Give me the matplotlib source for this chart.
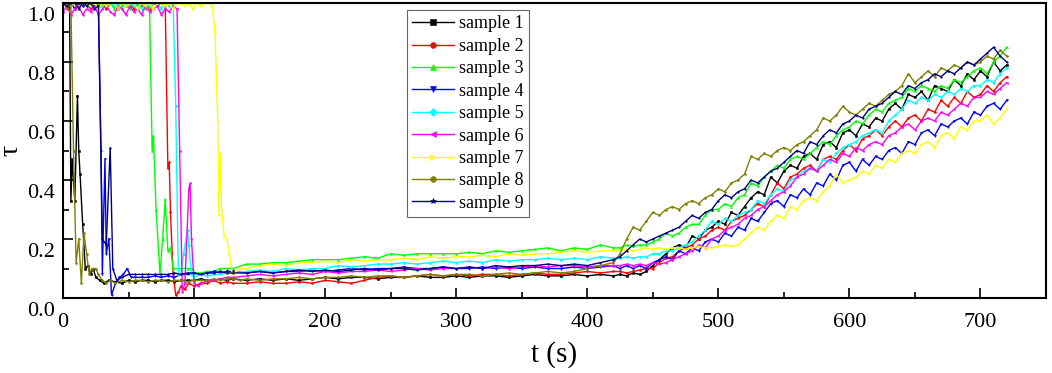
import matplotlib
matplotlib.use("Agg")
import matplotlib.pyplot as plt
import matplotlib.transforms as mtransforms
from matplotlib.ticker import MultipleLocator, FormatStrFormatter

plt.rcParams["font.family"] = ["Liberation Serif", "DejaVu Serif"]

# shared sampling grids after the initial transient
T_MID = list(range(140, 421, 10))
T_RAMP = list(range(425, 721, 5))

LABELS = [f"sample {i}" for i in range(1, 10)]
COLORS = ["#000000", "#FF0000", "#00FF00", "#0000FF", "#00FFFF",
          "#FF00FF", "#FFFF00", "#808000", "#000080"]
MARKERS = ["s", "o", "^", "v", "D", "<", ">", "o", "*"]

# sample 1
S1_T = [0, 3, 5, 6, 7, 8, 9, 11, 12, 13, 15, 17, 19, 21, 23, 25, 28, 31, 35, 40,
        45, 50, 55, 60, 65, 70, 75, 80, 85, 90, 95, 100, 105, 110, 115, 120, 125, 130]
S1_EARLY = [1.0, 0.99, 1.0, 0.33, 0.47, 0.40, 0.33, 0.685, 0.50, 0.42,
            0.25, 0.10, 0.11, 0.08, 0.10, 0.07, 0.06, 0.05, 0.06, 0.055,
            0.05, 0.06, 0.055, 0.06, 0.06, 0.055, 0.06, 0.06, 0.055, 0.06,
            0.06, 0.06, 0.065, 0.06, 0.06, 0.065, 0.06, 0.065]
S1_MID = [0.06, 0.065, 0.06, 0.065, 0.06, 0.065, 0.07, 0.065, 0.07, 0.07,
          0.065, 0.07, 0.07, 0.075, 0.07, 0.07, 0.075, 0.07, 0.075, 0.075,
          0.07, 0.075, 0.08, 0.075, 0.075, 0.08, 0.075, 0.08, 0.075]
S1_RAMP = [0.08, 0.075, 0.085, 0.08, 0.09, 0.11, 0.13, 0.15, 0.17, 0.18,
           0.17, 0.21, 0.2, 0.23, 0.24, 0.26, 0.25, 0.29, 0.28, 0.31,
           0.34, 0.36, 0.35, 0.41, 0.39, 0.43, 0.45, 0.44, 0.48, 0.49,
           0.47, 0.52, 0.53, 0.51, 0.56, 0.57, 0.55, 0.59, 0.58, 0.61,
           0.6, 0.64, 0.66, 0.64, 0.69, 0.68, 0.7, 0.67, 0.72, 0.71,
           0.7, 0.74, 0.72, 0.76, 0.74, 0.77, 0.75, 0.8, 0.77, 0.79]

# sample 2
S2_T = list(range(0, 76, 3)) + [78, 80, 81, 82, 84, 86, 88, 90, 93, 96,
                                 100, 105, 110, 115, 120, 125, 130]
S2_EARLY = [1.0, 0.99, 1.0, 0.98, 1.0, 0.99, 1.0, 0.98, 1.0, 0.99,
            1.0, 0.98, 1.0, 0.99, 0.98, 1.0, 0.99, 1.0, 0.98, 1.0,
            0.99, 1.0, 0.98, 1.0, 0.99, 1.0,
            0.99, 0.44, 0.46, 0.29, 0.08, 0.01, 0.02, 0.04, 0.03, 0.05,
            0.04, 0.05, 0.05, 0.06, 0.05, 0.055, 0.05]
S2_MID = [0.05, 0.055, 0.05, 0.05, 0.055, 0.05, 0.06, 0.055, 0.05, 0.06,
          0.07, 0.075, 0.07, 0.075, 0.08, 0.075, 0.08, 0.075, 0.08, 0.08,
          0.075, 0.08, 0.085, 0.08, 0.08, 0.085, 0.09, 0.085, 0.09]
S2_RAMP = [0.09, 0.085, 0.09, 0.095, 0.1, 0.1, 0.12, 0.135, 0.14, 0.16,
           0.17, 0.18, 0.2, 0.21, 0.23, 0.24, 0.23, 0.26, 0.27, 0.28,
           0.3, 0.32, 0.31, 0.35, 0.39, 0.37, 0.41, 0.42, 0.44, 0.45,
           0.43, 0.47, 0.48, 0.47, 0.5, 0.52, 0.5, 0.54, 0.55, 0.57,
           0.55, 0.58, 0.6, 0.58, 0.61, 0.62, 0.6, 0.64, 0.63, 0.67,
           0.65, 0.68, 0.66, 0.7, 0.68, 0.69, 0.72, 0.7, 0.73, 0.75]

# sample 3
S3_T = list(range(0, 67, 3)) + [68, 69, 71, 74, 76, 78, 80, 82, 84, 90, 95, 99,
                                 100, 105, 110, 115, 120, 125, 130]
S3_EARLY = [1.0, 0.99, 1.0, 1.0, 0.98, 1.0, 0.99, 1.0, 0.98, 1.0,
            0.99, 1.0, 1.0, 0.98, 1.0, 0.99, 1.0, 0.98, 1.0, 0.99,
            1.0, 0.98, 0.99,
            0.5, 0.55, 0.3, 0.08, 0.2, 0.335, 0.16, 0.17, 0.1, 0.1, 0.1, 0.1,
            0.085, 0.085, 0.09, 0.09, 0.1, 0.1, 0.1]
S3_MID = [0.115, 0.115, 0.12, 0.12, 0.125, 0.13, 0.13, 0.13, 0.135, 0.14,
          0.135, 0.15, 0.145, 0.15, 0.15, 0.15, 0.15, 0.155, 0.15, 0.16,
          0.155, 0.16, 0.165, 0.17, 0.16, 0.17, 0.165, 0.18, 0.17]
S3_RAMP = [0.17, 0.18, 0.175, 0.18, 0.18, 0.19, 0.2, 0.22, 0.21, 0.22,
           0.24, 0.25, 0.25, 0.28, 0.3, 0.3, 0.32, 0.31, 0.34, 0.35,
           0.39, 0.38, 0.41, 0.43, 0.45, 0.44, 0.47, 0.48, 0.47, 0.49,
           0.51, 0.53, 0.52, 0.55, 0.57, 0.58, 0.6, 0.59, 0.62, 0.64,
           0.63, 0.66, 0.67, 0.68, 0.71, 0.7, 0.72, 0.71, 0.7, 0.72,
           0.71, 0.74, 0.73, 0.75, 0.77, 0.78, 0.76, 0.8, 0.82, 0.85]

# sample 4
S4_T = list(range(0, 25, 3)) + [27, 29, 30, 32, 33, 35, 37, 40, 43, 46,
                                 49, 52, 55, 60, 65, 70, 75, 80, 85, 90,
                                 95, 100, 105, 110, 115, 120, 125, 130]
S4_EARLY = [1.0, 0.99, 1.0, 0.98, 1.0, 0.99, 1.0, 1.0, 0.99,
            0.99, 0.5, 0.08, 0.47, 0.15, 0.2, 0.01, 0.05, 0.07, 0.08,
            0.1, 0.07, 0.07, 0.07, 0.07, 0.075, 0.07, 0.075, 0.07, 0.08,
            0.08, 0.085, 0.08, 0.085, 0.09, 0.085, 0.09, 0.09]
S4_MID = [0.085, 0.09, 0.085, 0.09, 0.09, 0.095, 0.09, 0.095, 0.1, 0.095,
          0.1, 0.1, 0.105, 0.1, 0.1, 0.105, 0.1, 0.1, 0.105, 0.1,
          0.105, 0.1, 0.105, 0.1, 0.1, 0.105, 0.1, 0.105, 0.11]
S4_RAMP = [0.1, 0.11, 0.1, 0.11, 0.1, 0.12, 0.13, 0.14, 0.13, 0.16,
           0.15, 0.17, 0.16, 0.19, 0.2, 0.19, 0.22, 0.21, 0.24, 0.23,
           0.27, 0.26, 0.29, 0.32, 0.33, 0.31, 0.35, 0.34, 0.37, 0.35,
           0.39, 0.38, 0.42, 0.4, 0.45, 0.46, 0.43, 0.47, 0.45, 0.48,
           0.47, 0.5, 0.51, 0.49, 0.53, 0.52, 0.56, 0.57, 0.55, 0.59,
           0.58, 0.6, 0.61, 0.59, 0.63, 0.62, 0.65, 0.66, 0.64, 0.67]

# sample 5
S5_T = list(range(0, 85, 3)) + [86, 88, 90, 92, 95, 96, 98, 100, 105, 110,
                                 115, 120, 125, 130]
S5_EARLY = [1.0, 0.99, 1.0, 1.0, 0.98, 1.0, 0.99, 1.0, 1.0, 0.98,
            0.99, 1.0, 1.0, 0.99, 1.0, 0.98, 1.0, 1.0, 0.99, 1.0,
            0.98, 1.0, 0.99, 1.0, 1.0, 0.98, 1.0, 0.99, 1.0,
            0.65, 0.08, 0.08, 0.15, 0.23, 0.18, 0.08, 0.07, 0.08, 0.075,
            0.08, 0.08, 0.085, 0.085]
S5_MID = [0.09, 0.095, 0.09, 0.1, 0.095, 0.1, 0.1, 0.11, 0.105, 0.11,
          0.115, 0.115, 0.12, 0.115, 0.12, 0.125, 0.12, 0.125, 0.12, 0.13,
          0.125, 0.13, 0.13, 0.135, 0.13, 0.135, 0.13, 0.14, 0.135]
S5_RAMP = [0.135, 0.14, 0.135, 0.14, 0.14, 0.15, 0.15, 0.16, 0.16, 0.17,
           0.18, 0.19, 0.21, 0.23, 0.26, 0.25, 0.27, 0.26, 0.28, 0.29,
           0.3, 0.33, 0.32, 0.35, 0.37, 0.36, 0.4, 0.41, 0.43, 0.44,
           0.43, 0.47, 0.46, 0.49, 0.51, 0.52, 0.53, 0.55, 0.56, 0.57,
           0.56, 0.6, 0.62, 0.64, 0.67, 0.66, 0.68, 0.67, 0.69, 0.68,
           0.7, 0.69, 0.71, 0.7, 0.72, 0.72, 0.74, 0.73, 0.76, 0.78]

# sample 6
S6_T = list(range(0, 88, 3)) + [89, 91, 93, 96, 97, 98, 100, 103, 106, 110,
                                 115, 120, 125, 130]
S6_EARLY = [0.97, 0.99, 0.96, 0.98, 0.99, 0.96, 0.98, 0.97, 0.99, 0.96,
            0.98, 0.99, 0.97, 0.96, 0.99, 0.98, 0.96, 0.99, 0.97, 0.98,
            0.96, 0.99, 0.97, 0.98, 0.99, 0.96, 0.98, 0.97, 0.99, 0.98,
            0.5, 0.02, 0.05, 0.37, 0.39, 0.2, 0.05, 0.04, 0.05, 0.06,
            0.06, 0.065, 0.07, 0.07]
S6_MID = [0.075, 0.08, 0.075, 0.08, 0.085, 0.08, 0.09, 0.085, 0.09, 0.09,
          0.095, 0.09, 0.095, 0.1, 0.095, 0.1, 0.1, 0.105, 0.1, 0.105,
          0.1, 0.105, 0.11, 0.105, 0.11, 0.11, 0.105, 0.11, 0.11]
S6_RAMP = [0.11, 0.115, 0.11, 0.115, 0.11, 0.12, 0.115, 0.12, 0.13, 0.14,
           0.15, 0.16, 0.18, 0.17, 0.2, 0.21, 0.23, 0.24, 0.25, 0.27,
           0.28, 0.3, 0.31, 0.33, 0.35, 0.36, 0.38, 0.41, 0.42, 0.44,
           0.43, 0.45, 0.47, 0.46, 0.49, 0.48, 0.51, 0.5, 0.52, 0.53,
           0.52, 0.55, 0.56, 0.58, 0.59, 0.57, 0.6, 0.61, 0.6, 0.63,
           0.62, 0.64, 0.66, 0.65, 0.68, 0.68, 0.7, 0.69, 0.71, 0.73]

# sample 7
S7_T = list(range(0, 115, 3)) + [116, 118, 119, 120, 121, 123, 125, 127, 129, 132, 135]
S7_EARLY = [1.0, 1.0, 0.99, 1.0, 0.98, 1.0, 1.0, 0.99, 1.0, 0.98,
            1.0, 0.99, 1.0, 1.0, 0.98, 1.0, 0.99, 1.0, 1.0, 0.98,
            1.0, 0.99, 1.0, 0.98, 1.0, 1.0, 0.99, 1.0, 0.98, 1.0,
            1.0, 0.99, 1.0, 0.98, 1.0, 0.99, 1.0, 1.0, 0.99,
            0.9, 0.6, 0.28, 0.49, 0.3, 0.21, 0.2, 0.15, 0.08, 0.09, 0.1]
S7_MID = [0.1, 0.11, 0.115, 0.11, 0.12, 0.12, 0.125, 0.12, 0.13, 0.125,
          0.13, 0.13, 0.135, 0.13, 0.14, 0.135, 0.14, 0.14, 0.145, 0.14,
          0.15, 0.145, 0.15, 0.15, 0.155, 0.16, 0.155, 0.16, 0.16]
S7_RAMP = [0.16, 0.165, 0.16, 0.165, 0.17, 0.165, 0.17, 0.165, 0.17, 0.17,
           0.165, 0.17, 0.175, 0.17, 0.17, 0.175, 0.18, 0.175, 0.18, 0.2,
           0.22, 0.24, 0.23, 0.26, 0.28, 0.27, 0.31, 0.3, 0.33, 0.34,
           0.33, 0.36, 0.38, 0.42, 0.39, 0.4, 0.41, 0.43, 0.42, 0.45,
           0.44, 0.47, 0.46, 0.49, 0.5, 0.49, 0.52, 0.53, 0.51, 0.55,
           0.56, 0.54, 0.58, 0.57, 0.6, 0.6, 0.62, 0.59, 0.61, 0.64]

# sample 8
S8_T = [0, 3, 6, 8, 10, 12, 14, 16, 18, 20, 22, 25, 27, 30, 33, 36, 40, 45, 50, 55,
        60, 65, 70, 75, 80, 85, 90, 95, 100, 105, 110, 115, 120, 125, 130, 135]
S8_EARLY = [1.0, 0.98, 1.0, 0.5, 0.12, 0.2, 0.05, 0.22, 0.15, 0.08,
            0.1, 0.1, 0.08, 0.06, 0.05, 0.06, 0.05, 0.06, 0.055, 0.06,
            0.06, 0.055, 0.06, 0.06, 0.055, 0.06, 0.06, 0.055, 0.06, 0.06,
            0.06, 0.065, 0.06, 0.065, 0.065, 0.06]
S8_MID = [0.065, 0.06, 0.065, 0.065, 0.07, 0.065, 0.07, 0.07, 0.075, 0.07,
          0.075, 0.075, 0.07, 0.075, 0.08, 0.075, 0.08, 0.08, 0.075, 0.08,
          0.085, 0.08, 0.085, 0.09, 0.085, 0.09, 0.1, 0.11, 0.12]
S8_RAMP = [0.15, 0.2, 0.24, 0.23, 0.26, 0.29, 0.28, 0.3, 0.31, 0.3,
           0.32, 0.33, 0.32, 0.34, 0.35, 0.37, 0.36, 0.39, 0.4, 0.42,
           0.48, 0.47, 0.49, 0.48, 0.5, 0.51, 0.5, 0.52, 0.53, 0.55,
           0.57, 0.61, 0.6, 0.62, 0.65, 0.63, 0.62, 0.64, 0.66, 0.65,
           0.67, 0.69, 0.7, 0.72, 0.76, 0.73, 0.75, 0.77, 0.75, 0.78,
           0.77, 0.79, 0.78, 0.8, 0.79, 0.8, 0.82, 0.81, 0.84, 0.82]

# sample 9
S9_T = list(range(0, 28, 3)) + [30, 33, 36, 38, 41, 45, 50, 55, 60, 65,
                                 70, 75, 80, 85, 90, 95, 100, 105, 110, 115,
                                 120, 125, 130]
S9_EARLY = [1.0, 0.99, 1.0, 1.0, 0.98, 1.0, 0.99, 1.0, 0.98, 0.99,
            0.2, 0.18, 0.51, 0.1, 0.06, 0.07, 0.08, 0.08, 0.08, 0.08,
            0.08, 0.08, 0.08, 0.085, 0.08, 0.085, 0.085, 0.08, 0.085, 0.085,
            0.09, 0.085, 0.085]
S9_MID = [0.085, 0.09, 0.085, 0.09, 0.095, 0.09, 0.095, 0.09, 0.095, 0.1,
          0.095, 0.1, 0.1, 0.095, 0.1, 0.105, 0.1, 0.105, 0.1, 0.11,
          0.105, 0.11, 0.11, 0.115, 0.11, 0.115, 0.11, 0.12, 0.13]
S9_RAMP = [0.14, 0.16, 0.18, 0.2, 0.19, 0.2, 0.21, 0.22, 0.23, 0.24,
           0.26, 0.28, 0.27, 0.29, 0.3, 0.33, 0.35, 0.34, 0.36, 0.37,
           0.4, 0.39, 0.41, 0.43, 0.44, 0.46, 0.48, 0.5, 0.49, 0.53,
           0.52, 0.55, 0.57, 0.56, 0.59, 0.6, 0.62, 0.61, 0.64, 0.65,
           0.66, 0.68, 0.7, 0.69, 0.72, 0.71, 0.73, 0.74, 0.76, 0.75,
           0.77, 0.76, 0.78, 0.8, 0.79, 0.81, 0.83, 0.85, 0.82, 0.8]

SAMPLES = [
    (S1_T, S1_EARLY, S1_MID, S1_RAMP),
    (S2_T, S2_EARLY, S2_MID, S2_RAMP),
    (S3_T, S3_EARLY, S3_MID, S3_RAMP),
    (S4_T, S4_EARLY, S4_MID, S4_RAMP),
    (S5_T, S5_EARLY, S5_MID, S5_RAMP),
    (S6_T, S6_EARLY, S6_MID, S6_RAMP),
    (S7_T, S7_EARLY, S7_MID, S7_RAMP),
    (S8_T, S8_EARLY, S8_MID, S8_RAMP),
    (S9_T, S9_EARLY, S9_MID, S9_RAMP),
]


def main() -> int:
    fig = plt.figure(figsize=(10.52, 3.73), dpi=100)
    ax = fig.add_axes([0.0599, 0.201, 0.9344, 0.791])

    for (t_early, early, mid, ramp), label, color, marker in zip(
        SAMPLES, LABELS, COLORS, MARKERS, strict=True
    ):
        t = t_early + T_MID + T_RAMP
        tau = early + mid + ramp
        ax.plot(t, tau, color=color, lw=1.0, marker=marker, markersize=1.4,
                markeredgewidth=0.4, label=label)

    ax.set_xlim(0, 750)
    ax.set_ylim(0, 1.0)
    ax.xaxis.set_major_locator(MultipleLocator(100))
    ax.xaxis.set_minor_locator(MultipleLocator(50))
    ax.yaxis.set_major_locator(MultipleLocator(0.2))
    ax.yaxis.set_minor_locator(MultipleLocator(0.1))
    ax.yaxis.set_major_formatter(FormatStrFormatter("%.1f"))

    ax.tick_params(which="both", direction="in", top=False, right=False, width=1.2)
    ax.tick_params(which="major", length=7, labelsize=16)
    ax.tick_params(axis="x", which="major", pad=11)
    ax.tick_params(axis="y", which="major", pad=6)
    ax.tick_params(which="minor", length=4)
    for spine in ax.spines.values():
        spine.set_linewidth(1.5)

    # y tick labels sit a little below their ticks in the original
    offset = mtransforms.ScaledTranslation(0, -8 / 72, fig.dpi_scale_trans)
    for lab in ax.get_yticklabels():
        lab.set_transform(lab.get_transform() + offset)

    ax.set_xlabel("t (s)", fontsize=21, labelpad=6)
    # mathtext keeps the box tight around the single glyph
    ax.set_ylabel(r"$\mathregular{τ}$", fontsize=20)
    ax.yaxis.set_label_coords(-0.040, 0.5)

    leg = ax.legend(loc="upper left", bbox_to_anchor=(0.350, 0.976), borderaxespad=0,
                    fontsize=13, markerscale=3.0, handlelength=2.3, labelspacing=0.3,
                    handletextpad=0.25, borderpad=0.3, fancybox=False, framealpha=1,
                    edgecolor="#666666")
    leg.get_frame().set_linewidth(0.8)

    fig.savefig("out.png", dpi=100)
    plt.close(fig)
    return 0


if __name__ == "__main__":
    raise SystemExit(main())
